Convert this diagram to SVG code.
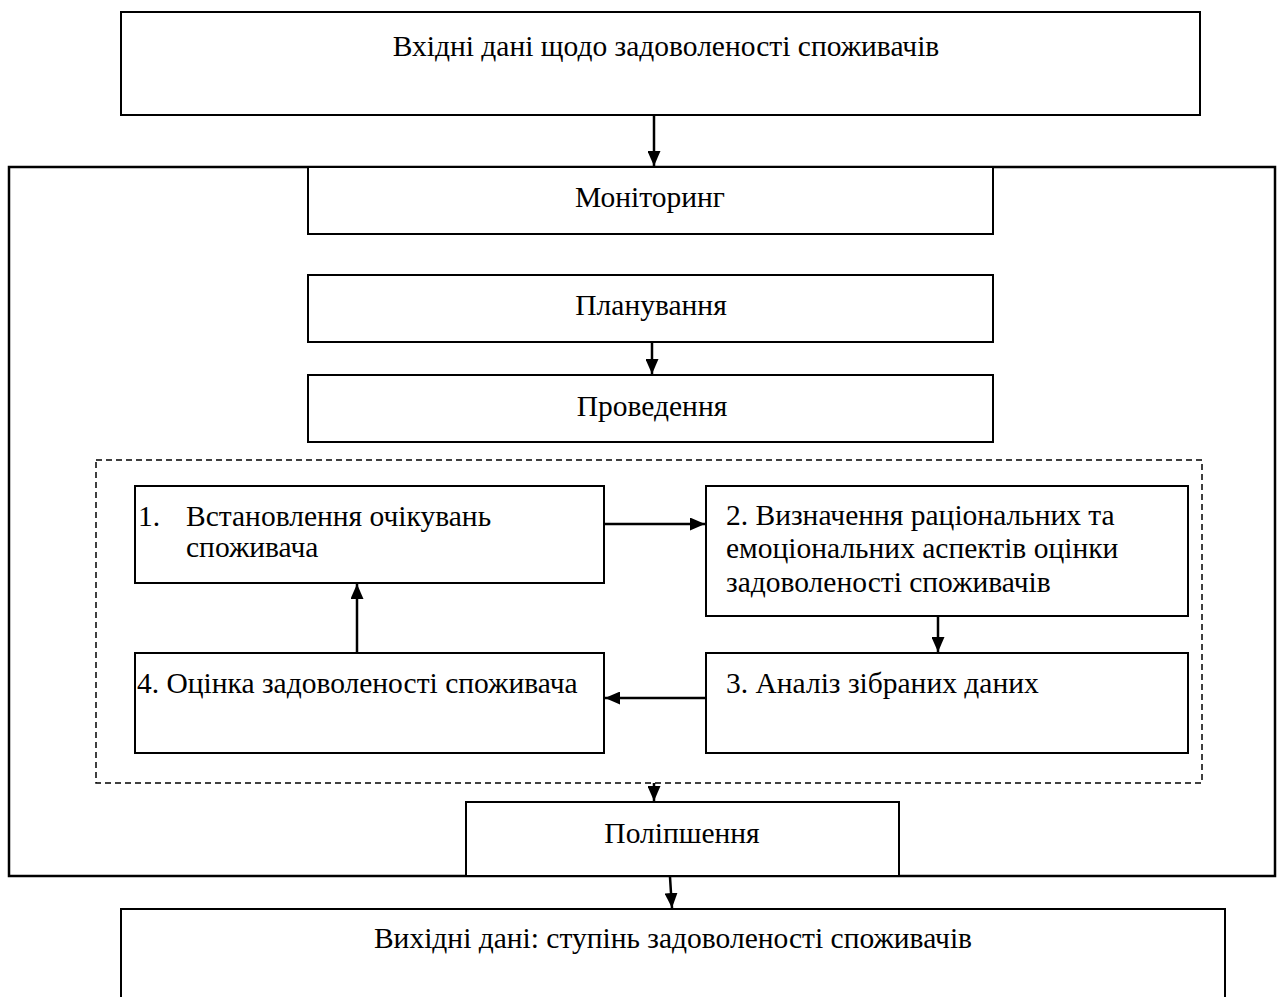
<svg xmlns="http://www.w3.org/2000/svg" width="1282" height="997" viewBox="0 0 1282 997">
<style>
.box{fill:#fff;stroke:#000;stroke-width:2}
.outer{fill:none;stroke:#000;stroke-width:2.5}
.dash{fill:none;stroke:#000;stroke-width:1.5;stroke-dasharray:6 4}
.t{font-family:"Liberation Serif","Times New Roman",serif;font-size:29.5px;fill:#000}
.c{text-anchor:middle}
.conn line{stroke:#000;stroke-width:2.5}
</style>
<defs>
<marker id="ah" viewBox="0 0 15 13" refX="15" refY="6.5" markerWidth="15" markerHeight="13" markerUnits="userSpaceOnUse" orient="auto">
<path d="M0,0 L15,6.5 L0,13 Z" fill="#000"/>
</marker>
</defs>
<rect width="1282" height="997" fill="#fff"/>
<g id="outer"><rect class="outer" x="9" y="167" width="1266" height="709"/></g>
<g id="input"><rect class="box" x="121" y="12" width="1079" height="103"/>
<text class="t c" x="666" y="56">Вхідні дані щодо задоволеності споживачів</text></g>
<g id="monitoring"><rect class="box" x="308" y="167" width="685" height="67"/>
<text class="t c" x="650" y="207">Моніторинг</text></g>
<g id="planning"><rect class="box" x="308" y="275" width="685" height="67"/>
<text class="t c" x="651" y="315">Планування</text></g>
<g id="conducting"><rect class="box" x="308" y="375" width="685" height="67"/>
<text class="t c" x="652" y="416">Проведення</text></g>
<g id="cycle"><rect class="dash" x="96" y="460" width="1106" height="323"/></g>
<g id="step1"><rect class="box" x="135" y="486" width="469" height="97"/>
<text class="t" x="138" y="526">1.</text>
<text class="t" x="186" y="526">Встановлення очікувань</text>
<text class="t" x="186" y="557">споживача</text></g>
<g id="step2"><rect class="box" x="706" y="486" width="482" height="130"/>
<text class="t" x="726" y="525">2. Визначення раціональних та</text>
<text class="t" x="726" y="558">емоціональних аспектів оцінки</text>
<text class="t" x="726" y="592">задоволеності споживачів</text></g>
<g id="step3"><rect class="box" x="706" y="653" width="482" height="100"/>
<text class="t" x="726" y="693">3. Аналіз зібраних даних</text></g>
<g id="step4"><rect class="box" x="135" y="653" width="469" height="100"/>
<text class="t" x="137" y="693">4. Оцінка задоволеності споживача</text></g>
<g id="improvement"><rect class="box" x="466" y="802" width="433" height="74"/>
<text class="t c" x="682" y="843">Поліпшення</text></g>
<g id="output"><rect class="box" x="121" y="909" width="1104" height="100"/>
<text class="t c" x="673" y="948">Вихідні дані: ступінь задоволеності споживачів</text></g>
<g id="connectors" class="conn">
<line x1="654" y1="115" x2="654" y2="166" marker-end="url(#ah)"/>
<line x1="652" y1="342" x2="652" y2="374" marker-end="url(#ah)"/>
<line x1="604" y1="524" x2="705" y2="524" marker-end="url(#ah)"/>
<line x1="938" y1="616" x2="938" y2="652" marker-end="url(#ah)"/>
<line x1="706" y1="698" x2="605" y2="698" marker-end="url(#ah)"/>
<line x1="357" y1="653" x2="357" y2="584" marker-end="url(#ah)"/>
<line x1="654" y1="783" x2="654" y2="801" marker-end="url(#ah)"/>
<line x1="670" y1="877" x2="672" y2="908" marker-end="url(#ah)"/>
</g>
</svg>
